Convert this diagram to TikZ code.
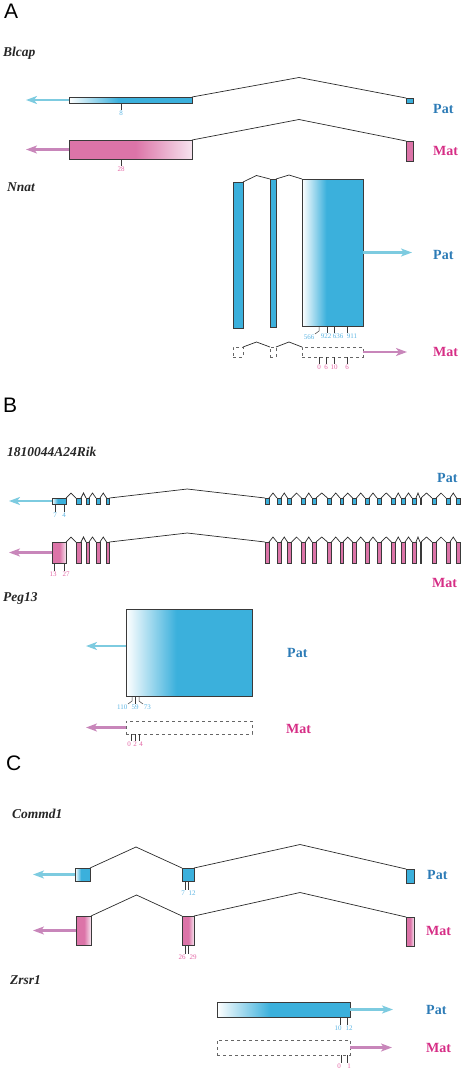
\documentclass[tikz,border=0pt]{standalone}
\usepackage{fontspec}
\setmainfont{Liberation Serif}
\newfontfamily\panelfont{Liberation Sans}
\usepackage{tikz}
\usetikzlibrary{arrows.meta,calc}

\definecolor{patBlue}{HTML}{3BB0DC}
\definecolor{matPink}{HTML}{DC74A8}
\definecolor{matPale}{HTML}{F6E3EE}
\definecolor{patText}{HTML}{2C7BB6}
\definecolor{matText}{HTML}{D62E86}
\definecolor{patArrow}{HTML}{7DCBE0}
\definecolor{matArrow}{HTML}{C886BA}
\definecolor{patNum}{HTML}{5DB5E3}
\definecolor{matNum}{HTML}{E366A5}
\definecolor{exonLine}{HTML}{3A3A3A}
\definecolor{intronGray}{HTML}{2A2A2A}

\pgfdeclarehorizontalshading{patFade}{100bp}{color(0bp)=(white); color(25bp)=(white); color(45bp)=(patBlue); color(100bp)=(patBlue)}
\pgfdeclarehorizontalshading{matFade}{100bp}{color(0bp)=(matPink); color(52bp)=(matPink); color(75bp)=(matPale); color(100bp)=(matPale)}

\begin{document}
\begin{tikzpicture}[x=1pt, y=-1pt]
	\tikzstyle{patExon} = [rectangle, draw=exonLine, line width=0.6pt, fill=patBlue,
	inner sep=0pt, outer sep=0pt, anchor=north west]
	\tikzstyle{matExon} = [rectangle, draw=exonLine, line width=0.6pt, fill=matPink,
	inner sep=0pt, outer sep=0pt, anchor=north west]
	\tikzstyle{silent} = [rectangle, draw=gray!80!black, dashed, line width=0.6pt,
	inner sep=0pt, outer sep=0pt, anchor=north west]
	\tikzstyle{patArr} = [draw=patArrow, line width=2.4pt, -{Stealth[length=11pt, width=8pt, inset=3pt]}]
	\tikzstyle{matArr} = [draw=matArrow, line width=2.4pt, -{Stealth[length=11pt, width=8pt, inset=3pt]}]
	\tikzstyle{intronLine} = [draw=intronGray, line width=0.7pt]
	\tikzstyle{intron}[5] = [to path={-- ($(\tikztostart)!.5!(\tikztotarget)+(0,-#1)$) -- (\tikztotarget)}]
	\tikzstyle{tick} = [draw=exonLine, line width=0.5pt]
	\tikzstyle{numPat} = [text=patNum, font=\fontsize{7}{7}\selectfont, inner sep=1pt]
	\tikzstyle{numMat} = [text=matNum, font=\fontsize{7}{7}\selectfont, inner sep=1pt]
	\tikzstyle{patLabel} = [text=patText, font=\fontsize{14}{14}\selectfont\bfseries, anchor=west, inner sep=0pt]
	\tikzstyle{matLabel} = [text=matText, font=\fontsize{14}{14}\selectfont\bfseries, anchor=west, inner sep=0pt]
	\tikzstyle{geneName} = [text=black!85, font=\fontsize{13.5}{14}\selectfont\bfseries\itshape, anchor=west, inner sep=0pt]
	\tikzstyle{panel} = [font=\panelfont\fontsize{21}{21}\selectfont, anchor=west, inner sep=0pt]
	\useasboundingbox (0,0) rectangle (461,1074);

	% A: Blcap
	\node (panelA) [panel] at (4,11) {A};
	\node (blcapName) [geneName] at (3,53) {Blcap};
	\node (blcapP1) [patExon, shade, shading=patFade, minimum width=123, minimum height=6] at (69,97) {};
	\node (blcapP2) [patExon, minimum width=7, minimum height=5] at (406,98) {};
	\node (blcapM1) [matExon, shade, shading=matFade, minimum width=123, minimum height=19] at (69,140) {};
	\node (blcapM2) [matExon, minimum width=7, minimum height=20] at (406,141) {};
	\node (blcapPat) [patLabel] at (433,109) {Pat};
	\node (blcapMat) [matLabel] at (433,151) {Mat};
	\coordinate (blcapPend) at (26,100);
	\coordinate (blcapMend) at (26,149.5);
	\draw [patArr] (blcapP1.west) -- (blcapPend);
	\draw [matArr] (blcapM1.west) -- (blcapMend);
	\draw [intronLine] (blcapP1.north east) to[intron=20] (blcapP2.north west);
	\draw [intronLine] (blcapM1.north east) to[intron=21] (blcapM2.north west);
	\draw [tick] ([xshift=52pt]blcapP1.south west) -- ++(0,7) node [numPat, below] {8};
	\draw [tick] ([xshift=52pt]blcapM1.south west) -- ++(0,7) node [numMat, below] {28};

	% A: Nnat
	\node (nnatName) [geneName] at (7,187) {Nnat};
	\node (nnatP1) [patExon, minimum width=10, minimum height=146] at (233,182) {};
	\node (nnatP2) [patExon, minimum width=6, minimum height=148] at (270,179) {};
	\node (nnatP3) [patExon, shade, shading=patFade, minimum width=61, minimum height=147] at (302,179) {};
	\node (nnatM1) [silent, minimum width=10, minimum height=10] at (233,347) {};
	\node (nnatM2) [silent, minimum width=6, minimum height=10] at (270,347) {};
	\node (nnatM3) [silent, minimum width=61, minimum height=10] at (302,347) {};
	\node (nnatPat) [patLabel] at (433,255) {Pat};
	\node (nnatMat) [matLabel] at (433,352) {Mat};
	\coordinate (nnatPend) at (412,252.5);
	\coordinate (nnatMend) at (407,352);
	\draw [patArr] (nnatP3.east) -- (nnatPend);
	\draw [matArr] (nnatM3.east) -- (nnatMend);
	\draw [intronLine] (nnatP1.north east) to[intron] (nnatP2.north west);
	\draw [intronLine] (nnatP2.north east) to[intron=4] (nnatP3.north west);
	\draw [intronLine] (nnatM1.north east) to[intron] (nnatM2.north west);
	\draw [intronLine] (nnatM2.north east) to[intron] (nnatM3.north west);
	\draw [tick] ([xshift=17pt]nnatP3.south west) -- ++(0,5) -- ++(-4,3) node [numPat, anchor=north east, inner sep=0.5pt] {566};
	\draw [tick] ([xshift=25pt]nnatP3.south west) -- ++(0,7) node [numPat, below, xshift=-1pt] {922};
	\draw [tick] ([xshift=32pt]nnatP3.south west) -- ++(0,7) node [numPat, below, xshift=4pt] {636};
	\draw [tick] ([xshift=45pt]nnatP3.south west) -- ++(0,7) node [numPat, below, xshift=5pt] {911};
	\draw [tick] ([xshift=17pt]nnatM3.south west) -- ++(0,7) node [numMat, below] {0};
	\draw [tick] ([xshift=24pt]nnatM3.south west) -- ++(0,7) node [numMat, below] {6};
	\draw [tick] ([xshift=32pt]nnatM3.south west) -- ++(0,7) node [numMat, below] {10};
	\draw [tick] ([xshift=45pt]nnatM3.south west) -- ++(0,7) node [numMat, below] {6};

	% B: 1810044A24Rik
	\node (panelB) [panel] at (3,405) {B};
	\node (rikName) [geneName] at (7,452) {1810044A24Rik};
	\node (rikP0) [patExon, shade, shading=patFade, minimum width=14, minimum height=6] at (52,498) {};
	\node (rikM0) [matExon, shade, shading=matFade, minimum width=14, minimum height=21] at (52,542) {};
	\foreach \c/\w [count=\i] in {78.5/5, 87.5/3, 98/4, 108/3, 267/4, 279/4, 289.5/4, 303.5/4,
	  314/4, 329.5/4, 341.5/3, 354.5/4, 367/4, 379/4, 393.5/4, 403/4, 414/4, 420.5/1, 434/4, 448/4, 458.5/4} {
		\node (rikP\i) [patExon, anchor=north, minimum width=\w, minimum height=6] at (\c,498) {};
		\node (rikM\i) [matExon, anchor=north, minimum width=\w, minimum height=21] at (\c,542) {};
	}
	\foreach \i [evaluate=\i as \j using int(\i-1)] in {1,2,3,4,6,7,8,9,10,11,12,13,14,15,16,17,18,19,20,21} {
		\draw [intronLine] (rikP\j.north east) to[intron] (rikP\i.north west);
		\draw [intronLine] (rikM\j.north east) to[intron] (rikM\i.north west);
	}
	\draw [intronLine] (rikP4.north east) to[intron=9] (rikP5.north west);
	\draw [intronLine] (rikM4.north east) to[intron=9] (rikM5.north west);
	\node (rikPat) [patLabel] at (437,478) {Pat};
	\node (rikMat) [matLabel] at (432,583) {Mat};
	\coordinate (rikPend) at (9,501);
	\coordinate (rikMend) at (9,552.5);
	\draw [patArr] (rikP0.west) -- (rikPend);
	\draw [matArr] (rikM0.west) -- (rikMend);
	\draw [tick] ([xshift=3pt]rikP0.south west) -- ++(0,8) node [numPat, below] {7};
	\draw [tick] ([xshift=12pt]rikP0.south west) -- ++(0,8) node [numPat, below] {4};
	\draw [tick] ([xshift=2pt]rikM0.south west) -- ++(0,8) node [numMat, below, xshift=-1pt] {13};
	\draw [tick] ([xshift=12pt]rikM0.south west) -- ++(0,8) node [numMat, below, xshift=2pt] {27};

	% B: Peg13
	\node (pegName) [geneName] at (3,598) {Peg13};
	\node (pegP) [patExon, shade, shading=patFade, minimum width=126, minimum height=87] at (126,609) {};
	\node (pegM) [silent, minimum width=126, minimum height=13] at (126,721) {};
	\node (pegPat) [patLabel] at (287,653) {Pat};
	\node (pegMat) [matLabel] at (286,729) {Mat};
	\coordinate (pegPend) at (86,646);
	\coordinate (pegMend) at (86,727.5);
	\draw [patArr] (pegP.west |- pegPend) -- (pegPend);
	\draw [matArr] (pegM.west) -- (pegMend);
	\draw [tick] ([xshift=6pt]pegP.south west) -- ++(0,5) -- ++(-4,3) node [numPat, anchor=north east, inner sep=0.5pt] {110};
	\draw [tick] ([xshift=9pt]pegP.south west) -- ++(0,8) node [numPat, below] {59};
	\draw [tick] ([xshift=13pt]pegP.south west) -- ++(0,5) -- ++(4,3) node [numPat, anchor=north west, inner sep=0.5pt] {73};
	\draw [tick] ([xshift=5pt]pegM.south west) -- ++(0,7) node [numMat, below, xshift=-2pt] {0};
	\draw [tick] ([xshift=9pt]pegM.south west) -- ++(0,7) node [numMat, below] {2};
	\draw [tick] ([xshift=13pt]pegM.south west) -- ++(0,7) node [numMat, below, xshift=2pt] {4};

	% C: Commd1
	\node (panelC) [panel] at (6,763) {C};
	\node (comName) [geneName] at (12,814) {Commd1};
	\node (comP1) [patExon, shade, shading=patFade, minimum width=15, minimum height=13] at (75,868) {};
	\node (comP2) [patExon, minimum width=12, minimum height=13] at (182,868) {};
	\node (comP3) [patExon, minimum width=8, minimum height=14] at (406,869) {};
	\node (comM1) [matExon, shade, shading=matFade, minimum width=15, minimum height=29] at (76,916) {};
	\node (comM2) [matExon, shade, shading=matFade, minimum width=12, minimum height=29] at (182,916) {};
	\node (comM3) [matExon, shade, shading=matFade, minimum width=8, minimum height=29] at (406,917) {};
	\node (comPat) [patLabel] at (427,875) {Pat};
	\node (comMat) [matLabel] at (426,931) {Mat};
	\coordinate (comPend) at (33,874.5);
	\coordinate (comMend) at (33,930.5);
	\draw [patArr] (comP1.west) -- (comPend);
	\draw [matArr] (comM1.west) -- (comMend);
	\draw [intronLine] (comP1.north east) to[intron=21] (comP2.north west);
	\draw [intronLine] (comP2.north east) to[intron=24] (comP3.north west);
	\draw [intronLine] (comM1.north east) to[intron=21] (comM2.north west);
	\draw [intronLine] (comM2.north east) to[intron=24] (comM3.north west);
	\draw [tick] ([xshift=3pt]comP2.south west) -- ++(0,9) node [numPat, below, xshift=-2pt] {7};
	\draw [tick] ([xshift=6pt]comP2.south west) -- ++(0,9) node [numPat, below, xshift=4pt] {12};
	\draw [tick] ([xshift=3pt]comM2.south west) -- ++(0,9) node [numMat, below, xshift=-3pt] {26};
	\draw [tick] ([xshift=6pt]comM2.south west) -- ++(0,9) node [numMat, below, xshift=5pt] {29};

	% C: Zrsr1
	\node (zrsName) [geneName] at (10,980) {Zrsr1};
	\node (zrsP) [patExon, shade, shading=patFade, minimum width=133, minimum height=15] at (217,1002) {};
	\node (zrsM) [silent, minimum width=133, minimum height=15] at (217,1040) {};
	\node (zrsPat) [patLabel] at (426,1010) {Pat};
	\node (zrsMat) [matLabel] at (426,1048) {Mat};
	\coordinate (zrsPend) at (393,1009.5);
	\coordinate (zrsMend) at (392,1047.5);
	\draw [patArr] (zrsP.east) -- (zrsPend);
	\draw [matArr] (zrsM.east) -- (zrsMend);
	\draw [tick] ([xshift=123pt]zrsP.south west) -- ++(0,8) node [numPat, below, xshift=-2pt] {10};
	\draw [tick] ([xshift=130pt]zrsP.south west) -- ++(0,8) node [numPat, below, xshift=2pt] {12};
	\draw [tick] ([xshift=124pt]zrsM.south west) -- ++(0,8) node [numMat, below, xshift=-2pt] {0};
	\draw [tick] ([xshift=130pt]zrsM.south west) -- ++(0,8) node [numMat, below, xshift=2pt] {1};
\end{tikzpicture}
\end{document}
